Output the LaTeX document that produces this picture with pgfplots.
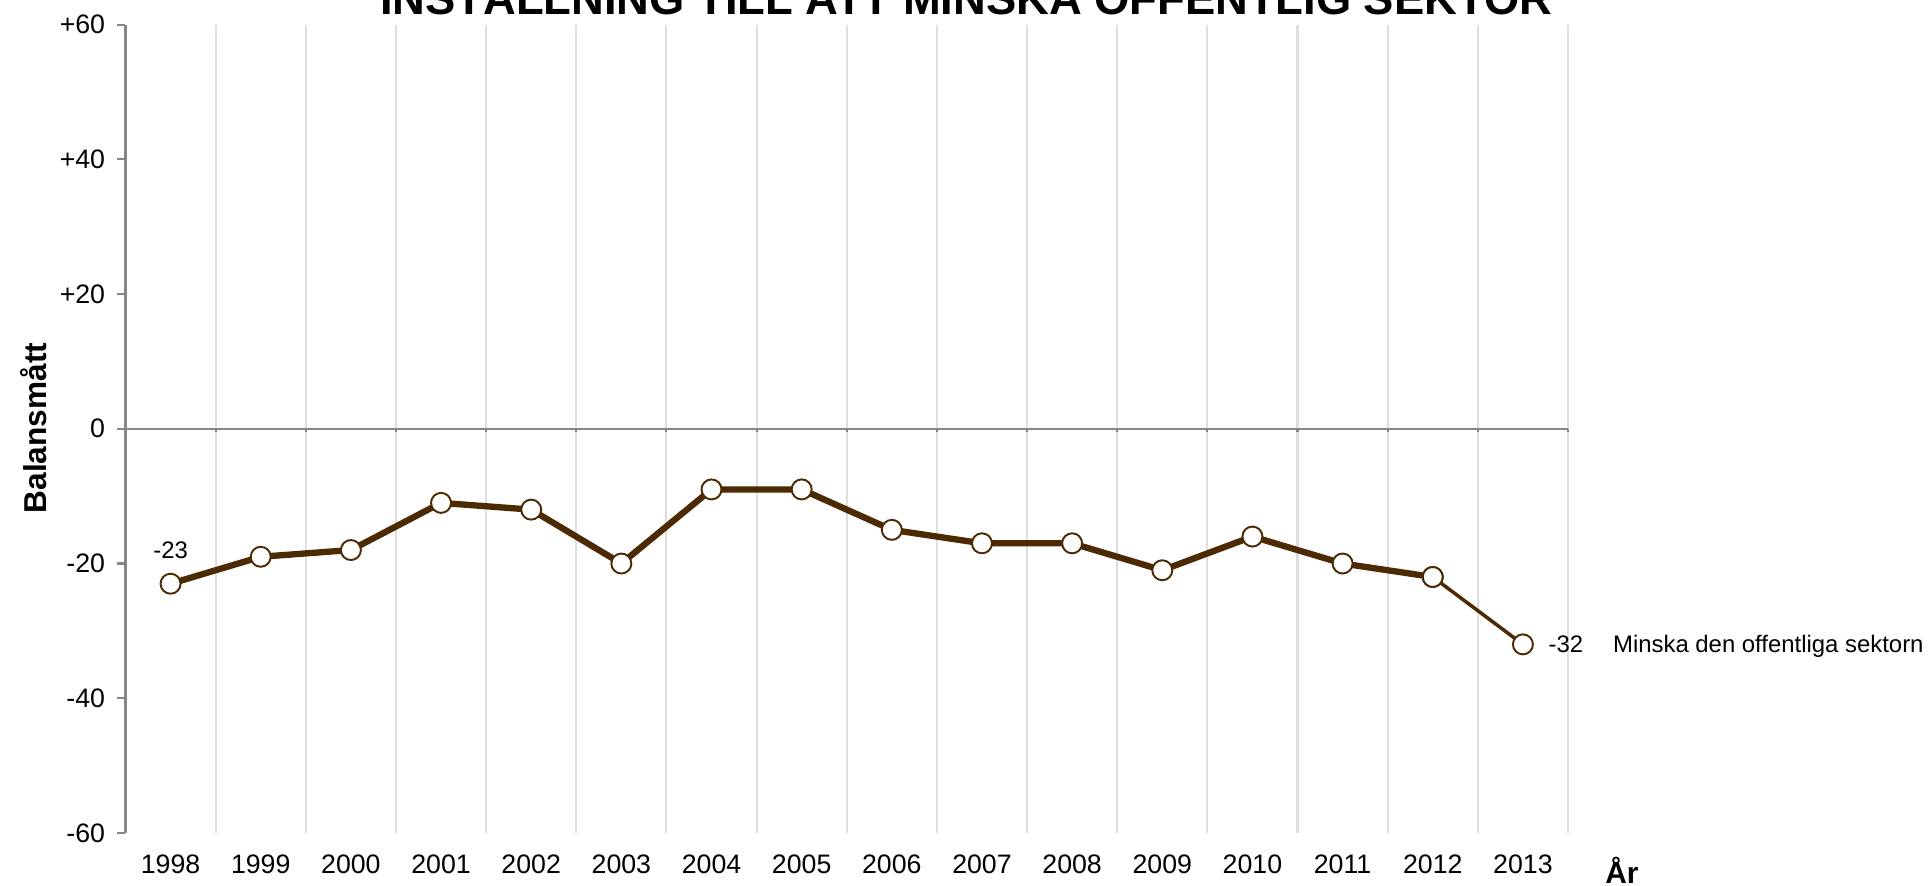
\documentclass[border=0pt]{standalone}
\usepackage{fontspec}
\setmainfont{Liberation Sans}
\usepackage{pgfplots}
\pgfplotsset{compat=1.18}
\definecolor{linebrown}{RGB}{76,42,4}
\definecolor{gridgray}{RGB}{222,222,222}
\definecolor{axisgray}{RGB}{134,134,134}

\begin{document}
\begin{tikzpicture}
\begin{axis}[
    at={(12.55mm,5.3mm)}, anchor=south west,
    scale only axis,
    width=144.25mm, height=80.84mm,
    xmin=-0.5, xmax=15.5,
    ymin=-60, ymax=60,
    axis y line*=left, axis x line*=bottom,
    x axis line style={draw=none},
    y axis line style={draw=axisgray, line width=0.6pt},
    xtick={0,...,15},
    xticklabels={1998,1999,2000,2001,2002,2003,2004,2005,2006,2007,2008,2009,2010,2011,2012,2013},
    minor xtick={-0.5,0.5,...,15.5},
    xminorgrids,
    minor x grid style={gridgray, line width=0.6pt},
    x tick style={draw=none},
    xticklabel style={anchor=center, yshift=-2.3mm, font=\fontsize{7.6}{9}\selectfont},
    ytick={-60,-40,-20,0,20,40,60},
    yticklabels={-60,-40,-20,0,+20,+40,+60},
    y tick style={axisgray, line width=0.6pt},
    tick align=outside,
    major tick length=0.8mm,
    yticklabel style={font=\fontsize{7.6}{9}\selectfont},
    clip=false,
]
% zero line with small ticks at the year boundaries
\draw[axisgray, line width=0.6pt] (axis cs:-0.5,0) -- (axis cs:15.5,0);
\pgfplotsinvokeforeach{0.5,1.5,...,15.5}{
  \draw[axisgray, line width=0.6pt] (axis cs:#1,0) -- ([yshift=-0.35mm]axis cs:#1,0);
}

\addplot[linebrown, line width=1.8pt, mark=*, mark size=1mm,
  mark options={fill=white, draw=linebrown, line width=0.55pt}] coordinates {
  (0,-23) (1,-19) (2,-18) (3,-11) (4,-12) (5,-20) (6,-9) (7,-9)
  (8,-15) (9,-17) (10,-17) (11,-21) (12,-16) (13,-20) (14,-22)
};
\addplot[linebrown, line width=1.0pt, mark=*, mark size=1mm,
  mark options={fill=white, draw=linebrown, line width=0.55pt}] coordinates {
  (14,-22) (15,-32)
};

\node[font=\fontsize{6.8}{8}\selectfont, anchor=center, yshift=3.35mm] at (axis cs:0,-23) {-23};
\node[font=\fontsize{6.8}{8}\selectfont, anchor=base west, inner sep=0pt, xshift=2.5mm, yshift=-0.86mm] at (axis cs:15,-32) {-32};
\node[font=\fontsize{6.8}{8}\selectfont, anchor=base west, inner sep=0pt, xshift=8.95mm, yshift=-0.86mm] at (axis cs:15,-32) {Minska den offentliga sektorn};
\end{axis}

\node[anchor=base, font=\bfseries\fontsize{12.9}{15}\selectfont] at (96.6mm,87.1mm) {INSTÄLLNING TILL ATT MINSKA OFFENTLIG SEKTOR};
\node[rotate=90, font=\bfseries\fontsize{9}{11}\selectfont] at (3.4mm,45.8mm) {Balansmått};
\node[anchor=base, inner sep=0pt, font=\bfseries\fontsize{8.5}{10}\selectfont] at (162.2mm,0.2mm) {År};

\pgfresetboundingbox
\path[use as bounding box] (0,0) rectangle (193mm,88.6mm);
\end{tikzpicture}
\end{document}
